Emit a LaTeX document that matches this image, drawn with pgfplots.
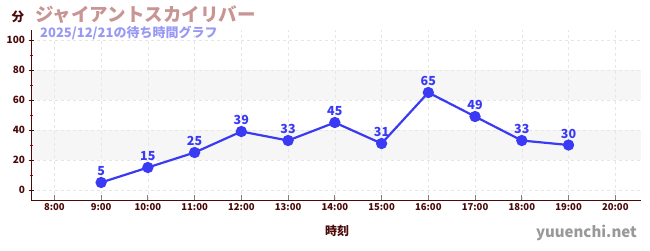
\documentclass[border=0pt]{standalone}
\usepackage{pgfplots}
\pgfplotsset{compat=1.18}
\usepackage{fontspec}
\setmainfont{Noto Sans CJK JP}
\definecolor{axc}{HTML}{4A0A0A}
\definecolor{ttl}{HTML}{C89494}
\definecolor{sub}{HTML}{9999F5}
\definecolor{ln}{HTML}{3A3AF5}
\definecolor{band}{HTML}{F6F6F6}
\definecolor{grd}{HTML}{E6E6E6}
\begin{document}
\begin{tikzpicture}
\path (0pt,0pt) rectangle (650pt,-250pt);
\begin{axis}[
  set layers,
  at={(31pt,-200pt)}, anchor=south west,
  scale only axis, width=610pt, height=170pt,
  xmin=7.5, xmax=20.55, ymin=-6.67, ymax=106.7,
  axis x line*=bottom, axis y line*=left,
  axis line style={axc, line width=0.9pt},
  xtick={8,...,20},
  xticklabels={8:00,9:00,10:00,11:00,12:00,13:00,14:00,15:00,16:00,17:00,18:00,19:00,20:00},
  ytick={0,20,...,100},
  minor ytick={10,30,...,90},
  grid=major,
  major grid style={grd, dash pattern=on 3pt off 3pt, line width=0.6pt},
  tick style={axc, line width=0.8pt},
  x tick style={gray, line width=0.8pt},
  minor y tick style={red!85!black, line width=0.7pt},
  major tick length=5pt, minor tick length=3pt,
  ytick align=center,
  xtick align=inside,
  /pgf/number format/assume math mode=true,
  tick label style={font=\bfseries\fontsize{10}{12}\selectfont, text=axc},
  xticklabel style={font=\bfseries\fontsize{9.5}{11}\selectfont, text=axc},
  clip=false,
]
\begin{pgfonlayer}{axis background}
\fill[band] (axis cs:7.5,20) rectangle (axis cs:20.55,40);
\fill[band] (axis cs:7.5,60) rectangle (axis cs:20.55,80);
\end{pgfonlayer}
\addplot[ln, line width=2.2pt, mark=*, mark size=4.5pt, mark options={ln},
  nodes near coords, point meta=explicit symbolic,
  nodes near coords style={font=\fontsize{12.5}{14}\selectfont\bfseries, text=ln, anchor=south, yshift=2pt}]
  table[meta=v] {
x y v
9 5 5
10 15 15
11 25 25
12 39 39
13 33 33
14 45 45
15 31 31
16 65 65
17 49 49
18 33 33
19 30 30
};
\end{axis}
\node[anchor=center, text=axc, font=\fontsize{12.5}{14}\selectfont\bfseries] at (18pt,-17pt) {分};
\node[anchor=west, text=ttl, font=\fontsize{18.5}{20}\selectfont\bfseries, inner sep=0pt] at (35pt,-15pt) {ジャイアントスカイリバー};
\node[anchor=west, text=sub, font=\bfseries\fontsize{13}{15}\selectfont, inner sep=0pt] at (40pt,-33pt) {2025/12/21の待ち時間グラフ};
\node[anchor=center, text=axc, font=\fontsize{12}{14}\selectfont\bfseries] at (337pt,-231pt) {時刻};
\node[anchor=east, text=gray!80, font=\bfseries\fontsize{15}{18}\selectfont, inner sep=0pt] at (637pt,-233pt) {yuuenchi.net};
\end{tikzpicture}
\end{document}
